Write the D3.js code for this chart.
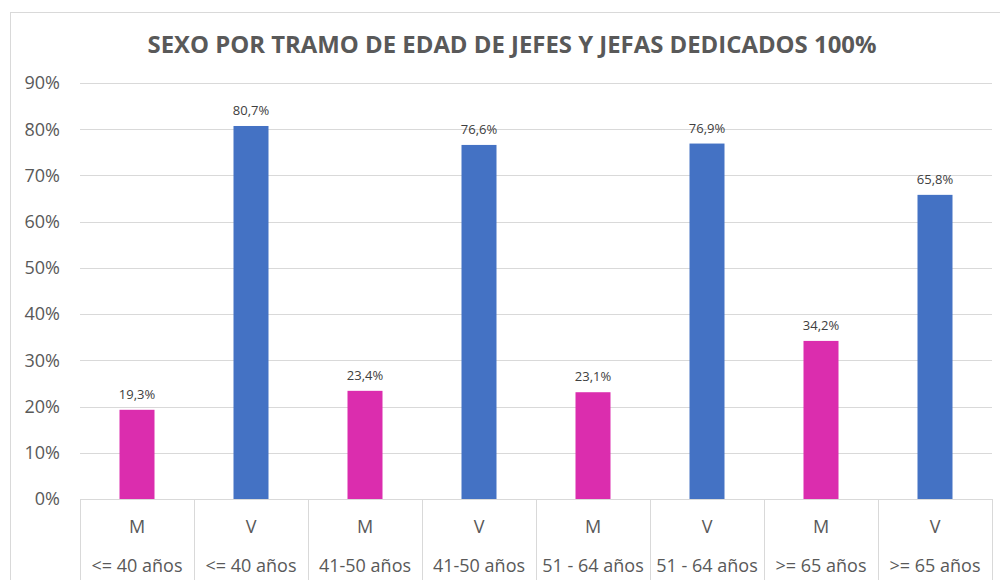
<!DOCTYPE html>
<html><head><meta charset="utf-8">
<script src="https://cdn.jsdelivr.net/npm/d3@7"></script>
<style>body{margin:0;background:#fff}svg{display:block}</style>
</head><body>
<svg id="c" width="1000" height="580"></svg>
<script>
const sexes = ["M","V","M","V","M","V","M","V"];
const ageGroups = ["<= 40 años","<= 40 años","41-50 años","41-50 años","51 - 64 años","51 - 64 años",">= 65 años",">= 65 años"];
const values = [0.193, 0.807, 0.234, 0.766, 0.231, 0.769, 0.342, 0.658];
const valueLabels = ["19,3%","80,7%","23,4%","76,6%","23,1%","76,9%","34,2%","65,8%"];
const yTicks = [0,0.1,0.2,0.3,0.4,0.5,0.6,0.7,0.8,0.9];
const colors = {M:"#DB2DAE", V:"#4472C4"};
const title = "SEXO POR TRAMO DE EDAD DE JEFES Y JEFAS DEDICADOS 100%";

(function(){
const svg = d3.select("#c");
const font = "'Open Sans', sans-serif";
const pL = 80, pR = 992, pT = 83, pB = 499;

// outer border
svg.append("rect").attr("x",10.5).attr("y",12.5).attr("width",1000).attr("height",600)
  .attr("fill","none").attr("stroke","#d9d9d9");

const idx = d3.range(values.length);
const x = d3.scaleBand().domain(idx).range([pL,pR]).paddingInner(0).paddingOuter(0);
const y = d3.scaleLinear().domain([0,0.9]).range([pB,pT]);

// gridlines
svg.append("g").selectAll("line").data(yTicks.slice(1)).join("line")
  .attr("x1",pL).attr("x2",pR)
  .attr("y1",d=>Math.round(y(d))+0.5).attr("y2",d=>Math.round(y(d))+0.5)
  .attr("stroke","#d9d9d9").attr("stroke-width",1);

// y tick labels
svg.append("g").selectAll("text").data(yTicks).join("text")
  .attr("x",60).attr("y",d=>y(d)).attr("dy","0.35em")
  .attr("text-anchor","end").attr("font-family",font).attr("font-size",18)
  .attr("fill","#595959").text(d3.format(".0%"));

// bars
const bw = 35;
svg.append("g").selectAll("rect").data(idx).join("rect")
  .attr("x",i=>x(i)+x.bandwidth()/2-bw/2).attr("width",bw)
  .attr("y",i=>y(values[i])).attr("height",i=>y(0)-y(values[i]))
  .attr("fill",i=>colors[sexes[i]]);

// data labels
svg.append("g").selectAll("text").data(idx).join("text")
  .attr("x",i=>x(i)+x.bandwidth()/2).attr("y",i=>y(values[i])-11)
  .attr("text-anchor","middle").attr("font-family",font).attr("font-size",13)
  .attr("fill","#404040").text(i=>valueLabels[i]);

// x axis line
svg.append("line").attr("x1",pL).attr("x2",pR).attr("y1",pB+0.5).attr("y2",pB+0.5)
  .attr("stroke","#d9d9d9");
// category separators
svg.append("g").selectAll("line").data(d3.range(values.length+1)).join("line")
  .attr("x1",i=>Math.round(pL+i*x.bandwidth())+0.5).attr("x2",i=>Math.round(pL+i*x.bandwidth())+0.5)
  .attr("y1",pB).attr("y2",580).attr("stroke","#d9d9d9");

// category labels
const cg = svg.append("g").attr("font-family",font).attr("font-size",18).attr("fill","#595959").attr("text-anchor","middle");
cg.selectAll("text.s").data(idx).join("text").attr("class","s")
  .attr("x",i=>x(i)+x.bandwidth()/2).attr("y",533).text(i=>sexes[i]);
cg.selectAll("text.a").data(idx).join("text").attr("class","a")
  .attr("x",i=>x(i)+x.bandwidth()/2).attr("y",572).text(i=>ageGroups[i]);

// title
svg.append("text").attr("x",512).attr("y",53).attr("text-anchor","middle")
  .attr("font-family",font).attr("font-weight","bold").attr("font-size",23)
  .attr("fill","#595959").attr("textLength",729).attr("lengthAdjust","spacingAndGlyphs")
  .text(title);
})();
</script>
</body></html>
